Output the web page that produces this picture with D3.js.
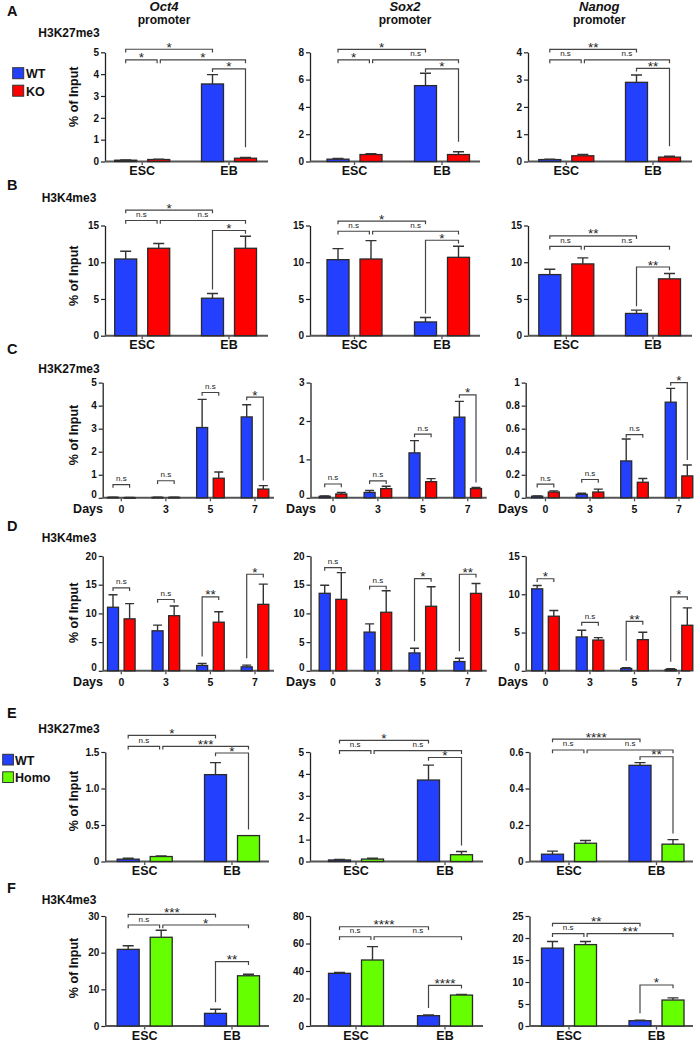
<!DOCTYPE html>
<html><head><meta charset="utf-8">
<script src="https://cdn.jsdelivr.net/npm/d3@7"></script>
<style>body{margin:0;background:#fff}svg{display:block}text{font-family:"Liberation Sans",Arial,sans-serif}</style>
</head><body><svg id="c" width="700" height="1042"></svg>
<script>
// ---------------- DATA ----------------
const genes = ["Oct4", "Sox2", "Nanog"];
const stages = ["ESC", "EB"];
const days = ["0", "3", "5", "7"];

// Row A: H3K27me3, WT vs KO  [gene][ESC, EB]
const A_WT = [[0.06, 3.55], [0.17, 5.56], [0.07, 2.9]];
const A_WTerr = [[0.01, 0.43], [0.05, 0.9], [0.01, 0.27]];
const A_KO = [[0.09, 0.15], [0.51, 0.51], [0.21, 0.16]];
const A_KOerr = [[0.01, 0.04], [0.07, 0.2], [0.05, 0.03]];
const A_ticks = [["0","1","2","3","4","5"], ["0","2","4","6","8"], ["0","1","2","3","4"]];
// bracket: [barA, barB, level, label, long leg]
const A_br = [
  [[0,2,5.14,"*",""],[0,1,4.65,"*",""],[1,3,4.65,"*",""],[2,3,4.24,"*","R"]],
  [[0,2,8.22,"*",""],[0,1,7.44,"*",""],[1,3,7.44,"n.s",""],[2,3,6.78,"*","R"]],
  [[0,2,4.11,"**",""],[0,1,3.72,"n.s",""],[1,3,3.72,"n.s",""],[2,3,3.41,"**","R"]]
];

// Row B: H3K4me3, WT vs KO
const B_WT = [[10.44, 5.1], [10.35, 1.87], [8.32, 3.03]];
const B_WTerr = [[1.05, 0.65], [1.5, 0.6], [0.73, 0.45]];
const B_KO = [[11.9, 11.9], [10.44, 10.67], [9.77, 7.74]];
const B_KOerr = [[0.64, 1.64], [2.5, 1.5], [0.82, 0.72]];
const B_ticks = [["0","5","10","15"], ["0","5","10","15"], ["0","5","10","15"]];
const B_br = [
  [[0,2,17.09,"*",""],[0,1,15.68,"n.s",""],[1,3,15.68,"n.s",""],[2,3,14.32,"*","L"]],
  [[0,2,15.59,"*",""],[0,1,14.22,"n.s",""],[1,3,14.22,"n.s",""],[2,3,12.99,"*","L"]],
  [[0,2,13.6,"**",""],[0,1,12.15,"n.s",""],[1,3,12.15,"n.s",""],[2,3,9.35,"**","L"]]
];

// Row C: H3K27me3 time course [gene][day0, day3, day5, day7]
const C_WT = [[0.02, 0.02, 3.05, 3.51], [0.04, 0.14, 1.17, 2.1], [0.014, 0.03, 0.32, 0.83]];
const C_WTerr = [[0.01, 0.01, 1.22, 0.53], [0.01, 0.05, 0.32, 0.41], [0.003, 0.01, 0.19, 0.12]];
const C_KO = [[0.01, 0.02, 0.85, 0.38], [0.1, 0.24, 0.42, 0.24], [0.05, 0.05, 0.135, 0.19]];
const C_KOerr = [[0.005, 0.01, 0.27, 0.15], [0.04, 0.06, 0.08, 0.03], [0.01, 0.025, 0.032, 0.095]];
const C_ticks = [["0","1","2","3","4","5"], ["0","1","2","3"], ["0","0.2","0.4","0.6","0.8","1"]];
const C_br = [
  [[0,1,0.57,"n.s",""],[2,3,0.74,"n.s",""],[4,5,4.57,"n.s",""],[6,7,4.37,"*","R"]],
  [[0,1,0.36,"n.s",""],[2,3,0.44,"n.s",""],[4,5,1.66,"n.s",""],[6,7,2.68,"*","R"]],
  [[0,1,0.118,"n.s",""],[2,3,0.159,"n.s",""],[4,5,0.549,"n.s",""],[6,7,1.0,"*","R"]]
];

// Row D: H3K4me3 time course
const D_WT = [[11.07, 6.97, 0.92, 0.69], [13.5, 6.74, 3.11, 1.61], [10.71, 4.42, 0.3, 0.17]];
const D_WTerr = [[2.19, 0.98, 0.35, 0.29], [1.4, 1.44, 0.81, 0.58], [0.44, 0.87, 0.09, 0.09]];
const D_KO = [[9.05, 9.6, 8.47, 11.58], [12.45, 10.2, 11.24, 13.49], [7.13, 4.02, 4.07, 5.95]];
const D_KOerr = [[2.65, 1.7, 1.83, 3.52], [4.65, 3.75, 3.4, 1.71], [0.74, 0.31, 0.96, 2.27]];
const D_ticks = [["0","5","10","15","20"], ["0","5","10","15","20"], ["0","5","10","15"]];
const D_br = [
  [[0,1,14.44,"n.s",""],[2,3,12.42,"n.s",""],[4,5,12.88,"**","L"],[6,7,16.82,"*","L"]],
  [[0,1,17.98,"n.s",""],[2,3,14.73,"n.s",""],[4,5,16.07,"*","L"],[6,7,16.82,"**","L"]],
  [[0,1,12.03,"*",""],[2,3,6.32,"n.s",""],[4,5,6.45,"**","L"],[6,7,9.66,"*","L"]]
];

// Row E: H3K27me3, WT vs Homo
const E_WT = [[0.032, 1.19], [0.07, 3.72], [0.04, 0.527]];
const E_WTerr = [[0.013, 0.165], [0.02, 0.68], [0.017, 0.015]];
const E_HO = [[0.068, 0.355], [0.11, 0.31], [0.1, 0.095]];
const E_HOerr = [[0.009, 0], [0.04, 0.15], [0.015, 0.025]];
const E_ticks = [["0","0.5","1.0","1.5"], ["0","1","2","3","4","5"], ["0","0.2","0.4","0.6"]];
const E_br = [
  [[0,2,1.728,"*",""],[0,1,1.578,"n.s",""],[1,3,1.578,"***",""],[2,3,1.486,"*","R"]],
  [[0,2,5.53,"*",""],[0,1,5.06,"n.s",""],[1,3,5.06,"n.s",""],[2,3,4.75,"*","R"]],
  [[0,2,0.671,"****",""],[0,1,0.611,"n.s",""],[1,3,0.611,"n.s",""],[2,3,0.574,"**","R"]]
];

// Row F: H3K4me3, WT vs Homo
const F_WT = [[20.9, 3.45], [38.3, 7.5], [17.7, 1.2]];
const F_WTerr = [[1.0, 1.1], [0.7, 0.5], [1.5, 0.1]];
const F_HO = [[24.2, 13.7], [48, 22.5], [18.5, 5.9]];
const F_HOerr = [[1.9, 0.4], [9.7, 0.5], [0.7, 0.5]];
const F_ticks = [["0","10","20","30"], ["0","20","40","60","80"], ["0","5","10","15","20","25"]];
const F_br = [
  [[0,2,30.46,"***",""],[0,1,27.54,"n.s",""],[1,3,27.54,"*",""],[2,3,17.53,"**","L"]],
  [[0,2,72.2,"****",""],[0,1,64.9,"n.s",""],[1,3,64.9,"n.s",""],[2,3,29.6,"****","L"]],
  [[0,2,23.34,"**",""],[0,1,20.98,"n.s",""],[1,3,20.98,"***",""],[2,3,9.32,"*","L"]]
];

// ---------------- LAYOUT / STYLE ----------------
const BLUE = "#2440ff", RED = "#ff0000", GREEN = "#66ff00";
const colAB = [{ax:105,c:[142.2,229],end:268},{ax:310,c:[354.5,442],end:480},{ax:528,c:[566.3,653],end:692}];
const colEF = [{ax:105.3,c:[144.7,232],end:269},{ax:310,c:[356,445],end:483},{ax:529.5,c:[569,656.5],end:693}];
const colCD = [{ax:102.7,c:[121.3,255],end:274,dx:103},{ax:310.5,c:[333,467.7],end:486.7,dx:316},{ax:525.7,c:[545.5,679],end:690,dx:528}];

const rows = [
  {L:"A",hist:"H3K27me3",y0:161.5,yT:52.3,cols:colAB,cats:stages,wt:A_WT,wtE:A_WTerr,mu:A_KO,muE:A_KOerr,mn:"KO",mc:RED,ticks:A_ticks,br:A_br,gap:10,off:16.5,bw:22,letY:15.5,histY:37.3,histX:38.3,ylab:96.7},
  {L:"B",hist:"H3K4me3",y0:335.7,yT:225.5,cols:colAB,cats:stages,wt:B_WT,wtE:B_WTerr,mu:B_KO,muE:B_KOerr,mn:"KO",mc:RED,ticks:B_ticks,br:B_br,gap:4,off:16.5,bw:22,letY:190,histY:201.7,histX:41.7,ylab:275.7},
  {L:"C",hist:"H3K27me3",y0:497.8,yT:382.6,cols:colCD,cats:days,wt:C_WT,wtE:C_WTerr,mu:C_KO,muE:C_KOerr,mn:"KO",mc:RED,ticks:C_ticks,br:C_br,gap:5,off:8.3,bw:11,letY:354.3,histY:372.7,histX:38.3,ylab:435},
  {L:"D",hist:"H3K4me3",y0:670.8,yT:556,cols:colCD,cats:days,wt:D_WT,wtE:D_WTerr,mu:D_KO,muE:D_KOerr,mn:"KO",mc:RED,ticks:D_ticks,br:D_br,gap:7,off:8.3,bw:11,letY:530.5,histY:541.7,histX:41.7,ylab:612.8},
  {L:"E",hist:"H3K27me3",y0:861.5,yT:752,cols:colEF,cats:stages,wt:E_WT,wtE:E_WTerr,mu:E_HO,muE:E_HOerr,mn:"Homo",mc:GREEN,ticks:E_ticks,br:E_br,gap:6,off:16.5,bw:22,letY:718.3,histY:733.3,histX:38.3,ylab:801},
  {L:"F",hist:"H3K4me3",y0:1026,yT:916,cols:colEF,cats:stages,wt:F_WT,wtE:F_WTerr,mu:F_HO,muE:F_HOerr,mn:"Homo",mc:GREEN,ticks:F_ticks,br:F_br,gap:7,off:16.5,bw:22,letY:893.3,histY:904,histX:41.7,ylab:968}
];

const svg = d3.select("#c");

function panel(row, ci) {
  const col = row.cols[ci];
  const ticks = row.ticks[ci];
  const ymax = +ticks[ticks.length - 1];
  const y = d3.scaleLinear().domain([0, ymax]).range([row.y0, row.yT]);
  const xg = d3.scalePoint().domain(row.cats).range(col.c);
  const xs = d3.scalePoint().domain(["WT", row.mn]).range([-row.off, row.off]);
  const g = svg.append("g");
  const isDays = row.cats === days;

  const bars = [];
  row.cats.forEach((c, i) => {
    bars.push({cat: c, s: "WT", v: row.wt[ci][i], e: row.wtE[ci][i], col: BLUE});
    bars.push({cat: c, s: row.mn, v: row.mu[ci][i], e: row.muE[ci][i], col: row.mc});
  });
  bars.forEach(b => b.x = xg(b.cat) + xs(b.s));

  // y axis
  const ya = d3.axisLeft(y).tickValues(ticks.map(Number)).tickFormat((d, i) => ticks[i]).tickSize(4).tickSizeOuter(0).tickPadding(2);
  const yg = g.append("g").attr("transform", `translate(${col.ax},0)`).call(ya);
  yg.select(".domain").attr("stroke", "#222").attr("stroke-width", 1.3);
  yg.selectAll(".tick line").attr("stroke", "#222").attr("stroke-width", 1.2);
  yg.selectAll(".tick text").attr("fill", "#111").attr("font-size", 10).attr("font-weight", "bold")
    .attr("font-family", '"Liberation Sans",Arial,sans-serif');
  if (isDays) yg.selectAll(".tick text").filter(d => d === 0).attr("dy", "0.0em");

  // x axis line + ticks
  g.append("line").attr("x1", col.ax).attr("x2", col.end).attr("y1", row.y0).attr("y2", row.y0)
    .attr("stroke", "#555").attr("stroke-width", 2);
  g.selectAll("line.xt").data(row.cats).join("line").attr("class", "xt")
    .attr("x1", d => xg(d)).attr("x2", d => xg(d)).attr("y1", row.y0).attr("y2", row.y0 + 3.5)
    .attr("stroke", "#555").attr("stroke-width", 1.3);
  g.selectAll("text.xl").data(row.cats).join("text").attr("class", "xl")
    .attr("x", d => xg(d)).attr("y", row.y0 + (isDays ? 15.5 : 13.5))
    .attr("text-anchor", "middle").attr("font-weight", "bold")
    .attr("font-size", isDays ? 10.5 : 12.5).attr("fill", "#111").text(d => d);
  if (isDays) {
    g.append("text").attr("x", col.dx).attr("y", row.y0 + 15.5).attr("text-anchor", "end")
      .attr("font-weight", "bold").attr("font-size", 12.5).attr("fill", "#111").text("Days");
  }

  // bars
  g.selectAll("rect.bar").data(bars).join("rect").attr("class", "bar")
    .attr("x", d => d.x - row.bw / 2).attr("width", row.bw)
    .attr("y", d => y(d.v)).attr("height", d => Math.max(0.6, y(0) - y(d.v)))
    .attr("fill", d => d.col).attr("stroke", "#2a2a2a").attr("stroke-width", 1.3);

  // error bars
  const cap = row.bw >= 20 ? 11 : 9;
  const eb = bars.filter(d => d.e > 0);
  g.selectAll("path.err").data(eb).join("path").attr("class", "err")
    .attr("d", d => `M${d.x},${y(d.v)}V${y(d.v + d.e)}M${d.x - cap / 2},${y(d.v + d.e)}H${d.x + cap / 2}`)
    .attr("fill", "none").attr("stroke", "#333").attr("stroke-width", 1.4);

  // significance brackets
  const brs = row.br[ci];
  brs.forEach(bk => {
    const [a, b, lev, lab, lg] = bk;
    let x1 = bars[a].x, x2 = bars[b].x;
    if (brs.some(o => o !== bk && o[2] === lev && o[1] === a)) x1 += 1.6;
    if (brs.some(o => o !== bk && o[2] === lev && o[0] === b)) x2 -= 1.6;
    const yl = y(lev);
    const lEnd = lg === "L" ? y(bars[a].v + bars[a].e) - row.gap : yl + 3.2;
    const rEnd = lg === "R" ? y(bars[b].v + bars[b].e) - row.gap : yl + 3.2;
    g.append("path").attr("d", `M${x1},${lEnd}V${yl}H${x2}V${rEnd}`)
      .attr("fill", "none").attr("stroke", "#444").attr("stroke-width", 1.2);
    const ns = lab === "n.s";
    g.append("text").attr("x", (x1 + x2) / 2).attr("y", ns ? yl - 3.5 : yl + 2.5)
      .attr("text-anchor", "middle").attr("font-size", ns ? 8 : 13.5)
      .attr("fill", "#222").text(lab);
  });
}

rows.forEach(row => {
  row.cols.forEach((c, ci) => panel(row, ci));
  svg.append("text").attr("x", 7).attr("y", row.letY).attr("font-size", 14.5).attr("font-weight", "bold")
    .attr("fill", "#111").text(row.L);
  svg.append("text").attr("x", row.histX).attr("y", row.histY).attr("font-size", 12).attr("font-weight", "bold")
    .attr("fill", "#111").text(row.hist);
  svg.append("text").attr("transform", `translate(73.5,${row.ylab}) rotate(-90)`)
    .attr("text-anchor", "middle").attr("dominant-baseline", "central")
    .attr("font-size", 12.5).attr("font-weight", "bold").attr("fill", "#111").text("% of Input");
});

// gene headers
const headX = [164, 405, 599.3];
genes.forEach((gn, i) => {
  svg.append("text").attr("x", headX[i]).attr("y", 10.5).attr("text-anchor", "middle")
    .attr("font-size", 13).attr("font-style", "italic").attr("font-weight", "bold").attr("fill", "#111").text(gn);
  svg.append("text").attr("x", headX[i]).attr("y", 23.5).attr("text-anchor", "middle")
    .attr("font-size", 12).attr("font-weight", "bold").attr("fill", "#111").text("promoter");
});

// legends
function legend(x, ys, labels, colors, tx, size) {
  labels.forEach((l, i) => {
    svg.append("rect").attr("x", x).attr("y", ys[i]).attr("width", size).attr("height", size)
      .attr("fill", colors[i]).attr("stroke", "#333").attr("stroke-width", 1);
    svg.append("text").attr("x", tx).attr("y", ys[i] + size - 0.5).attr("font-size", 12.5)
      .attr("font-weight", "bold").attr("fill", "#111").text(l);
  });
}
legend(12.7, [67.7, 85.2], ["WT", "KO"], [BLUE, RED], 26, 11);
legend(2.7, [754.3, 771.8], ["WT", "Homo"], [BLUE, GREEN], 15, 10.7);
</script></body></html>
